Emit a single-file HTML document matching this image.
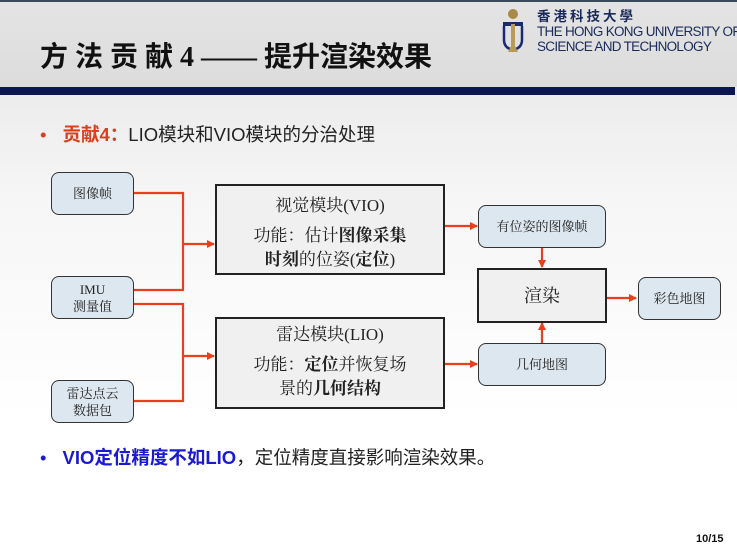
<!DOCTYPE html>
<html><head><meta charset="utf-8"><style>
*{margin:0;padding:0;box-sizing:border-box}
body{width:737px;height:552px;position:relative;overflow:hidden;background:linear-gradient(#ececec 0,#ececec 95px,#f6f6f6 200px,#fff 420px);font-family:"Liberation Sans","Noto Sans CJK SC",sans-serif}
.a{position:absolute}
.top{left:0;top:0;width:737px;height:2px;background:#3a4a5a}
.hdr{left:0;top:2px;width:737px;height:85px;background:linear-gradient(#e4e4e4,#dcdcdc)}
.bar{left:0;top:87px;width:735px;height:8px;background:#0b1650}
.title{left:40px;top:35px;font-size:28px;font-weight:bold;color:#111;font-family:"Liberation Serif","Noto Sans CJK SC",sans-serif;white-space:nowrap}
.logo{left:537px;top:8px;font-size:13.5px;color:#1b2a5a;line-height:15px;letter-spacing:-0.7px;white-space:nowrap}
.sb{border:1.5px solid #333;border-radius:8px;background:#dce7ef;display:flex;align-items:center;justify-content:center;text-align:center;font-size:13px;line-height:17px;color:#222;font-family:"Liberation Serif","Noto Serif CJK SC",serif}
.bb{border:2.5px solid #222;background:#f0f0f0;text-align:center;font-size:17px;line-height:24px;color:#222;font-family:"Liberation Serif","Noto Serif CJK SC",serif}
b{font-weight:bold}
</style></head><body>
<div class="a top"></div><div class="a hdr"></div><div class="a bar"></div>
<div class="a title">方 法 贡 献 4 —— 提升渲染效果</div>
<svg class="a" style="left:502px;top:8px" width="22" height="46" viewBox="0 0 22 46">
<circle cx="11" cy="6" r="5" fill="#a88a4a"/>
<path d="M1 14 h20 v4 h-20z" fill="#1b2a6a"/>
<path d="M2 18 v14 q0 8 9 10 q9-2 9-10 v-14" fill="none" stroke="#1b2a6a" stroke-width="2.5"/>
<path d="M9 16 h4 v22 l3 6 h-10 l3-6z" fill="#b89a5a"/>
</svg>
<div class="a logo"><span style="letter-spacing:3px;font-weight:bold;font-family:'Noto Sans CJK TC',sans-serif">香港科技大學</span><br>THE HONG KONG UNIVERSITY OF<br>SCIENCE AND TECHNOLOGY</div>

<div class="a" style="left:40px;top:121px;font-size:18.5px;color:#222;white-space:nowrap"><span style="color:#d9401c;margin-right:16px">•</span><b style="color:#d9401c">贡献4：</b>LIO模块和VIO模块的分治处理</div>

<svg class="a" style="left:0;top:0" width="737" height="552">
<defs><marker id="m" markerWidth="8" markerHeight="8" refX="7" refY="4" orient="auto" markerUnits="userSpaceOnUse"><path d="M0 0L8 4L0 8z" fill="#e8401c"/></marker></defs>
<g stroke="#e8401c" stroke-width="2.2" fill="none">
<path d="M133 193H183V290H133"/>
<path d="M183 244H214" marker-end="url(#m)"/>
<path d="M133 304H183V401H133"/>
<path d="M183 356H214" marker-end="url(#m)"/>
<path d="M444 226H477" marker-end="url(#m)"/>
<path d="M444 364H477" marker-end="url(#m)"/>
<path d="M542 248V267" marker-end="url(#m)"/>
<path d="M542 343V323" marker-end="url(#m)"/>
<path d="M607 298H636" marker-end="url(#m)"/>
</g></svg>

<div class="a sb" style="left:51px;top:172px;width:83px;height:43px">图像帧</div>
<div class="a sb" style="left:51px;top:276px;width:83px;height:43px">IMU<br>测量值</div>
<div class="a sb" style="left:51px;top:380px;width:83px;height:43px">雷达点云<br>数据包</div>

<div class="a bb" style="left:215px;top:184px;width:230px;height:91px;padding-top:8px">视觉模块(VIO)<div style="margin-top:6px">功能：估计<b>图像采集</b><br><b>时刻</b>的位姿(<b>定位</b>)</div></div>
<div class="a bb" style="left:215px;top:317px;width:230px;height:92px;padding-top:4px">雷达模块(LIO)<div style="margin-top:6px">功能：<b>定位</b>并恢复场<br>景的<b>几何结构</b></div></div>

<div class="a sb" style="left:478px;top:205px;width:128px;height:43px">有位姿的图像帧</div>
<div class="a bb" style="left:477px;top:268px;width:130px;height:55px;display:flex;align-items:center;justify-content:center;font-size:18px">渲染</div>
<div class="a sb" style="left:478px;top:343px;width:128px;height:43px">几何地图</div>
<div class="a sb" style="left:638px;top:277px;width:83px;height:43px">彩色地图</div>

<div class="a" style="left:40px;top:444px;font-size:18.5px;color:#222;white-space:nowrap"><span style="color:#1a1ad0;margin-right:16px">•</span><b style="color:#1a1ad0">VIO定位精度不如LIO</b>，定位精度直接影响渲染效果。</div>
<div class="a" style="left:696px;top:533px;font-size:11px;font-weight:bold;color:#111">10/15</div>
</body></html>
